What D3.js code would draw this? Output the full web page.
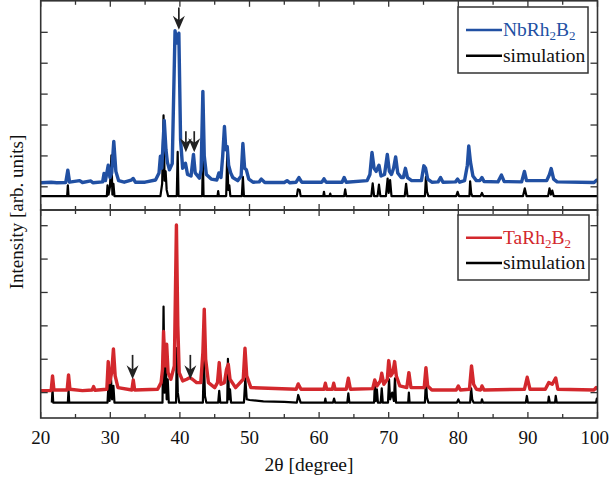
<!DOCTYPE html>
<html><head><meta charset="utf-8">
<script src="https://cdn.jsdelivr.net/npm/d3@7"></script>
<style>body{margin:0;background:#fff}svg{display:block}</style>
</head><body>
<script>
// ---- data (2θ in degrees, intensity in arbitrary units) ----
const nbMeasured = [[20,1.13],[21.5,1.15],[22.3,1.13],[23.6,1.14],[23.9,1.54],[24.15,1.15],[25.6,1.2],[26,1.14],[27.2,1.19],[27.5,1.13],[28.9,1.16],[29.1,1.43],[29.3,1.2],[29.7,1.7],[29.95,1.3],[30.2,1.45],[30.5,2.47],[30.8,1.5],[31.2,1.2],[32,1.15],[33.0,1.22],[33.3,1.27],[33.6,1.15],[35,1.15],[36.5,1.22],[37.0,1.45],[37.2,1.99],[37.4,1.6],[37.75,3.15],[38.0,2.2],[38.2,1.8],[38.5,1.55],[38.9,1.75],[39.3,6.05],[39.55,5.65],[39.85,5.97],[40.1,2.5],[40.4,1.6],[40.8,1.76],[41.1,1.4],[41.6,1.35],[41.95,2.05],[42.2,1.45],[42.8,1.28],[43.05,1.55],[43.3,4.09],[43.5,2.0],[43.8,1.4],[44.5,1.25],[45.3,1.22],[45.6,1.45],[45.9,1.3],[46.15,2.0],[46.4,2.95],[46.6,2.2],[46.8,2.3],[47.0,1.7],[47.3,1.45],[47.6,1.3],[48.3,1.2],[48.8,1.35],[49.05,2.4],[49.3,1.6],[49.55,1.55],[49.9,1.25],[50.5,1.15],[51.4,1.16],[51.7,1.25],[52.2,1.14],[55.0,1.14],[55.4,1.2],[55.8,1.13],[56.7,1.15],[57.1,1.3],[57.5,1.15],[60.4,1.15],[60.7,1.26],[61.0,1.15],[63.3,1.15],[63.6,1.3],[63.9,1.15],[66.9,1.2],[67.3,1.4],[67.6,2.11],[67.9,1.6],[68.2,1.5],[68.6,1.7],[68.9,1.35],[69.4,1.4],[69.8,2.05],[70.1,1.5],[70.4,1.4],[70.7,1.6],[71.0,1.97],[71.3,1.45],[71.8,1.3],[72.1,1.3],[72.4,1.6],[72.7,1.3],[73.3,1.2],[74.7,1.2],[75.05,1.68],[75.3,1.6],[75.6,1.25],[76.2,1.15],[77.1,1.16],[77.45,1.3],[77.8,1.15],[79.6,1.16],[79.9,1.25],[80.2,1.15],[80.9,1.2],[81.3,1.7],[81.5,2.32],[81.75,1.8],[82.1,1.35],[82.6,1.2],[83.1,1.2],[83.4,1.3],[83.7,1.17],[85.7,1.16],[86.2,1.38],[86.6,1.17],[89.1,1.16],[89.5,1.5],[89.8,1.2],[92.7,1.2],[93.1,1.4],[93.35,1.59],[93.7,1.25],[94.2,1.16],[99.5,1.14],[100,1.24]];
const nbSimulation = [[20,0.7],[23.8,0.7],[23.9,1.05],[24.0,0.7],[29.5,0.7],[29.6,1.05],[29.75,0.75],[29.95,1.0],[30.16,2.02],[30.3,0.75],[30.45,1.1],[30.6,0.7],[37.2,0.7],[37.45,1.1],[37.65,3.31],[37.8,1.2],[37.95,1.5],[38.1,0.9],[38.3,0.7],[39.55,0.7],[39.68,2.13],[39.8,0.7],[43.2,0.7],[43.3,1.9],[43.4,0.7],[45.4,0.7],[45.5,0.86],[45.6,0.7],[46.65,0.7],[46.8,2.05],[46.95,0.9],[47.1,1.05],[47.25,0.7],[48.9,0.7],[49.05,1.32],[49.2,0.7],[56.8,0.7],[56.95,0.92],[57.2,0.9],[57.35,0.7],[60.6,0.7],[60.7,0.84],[60.8,0.7],[61.5,0.7],[61.6,0.78],[61.7,0.7],[63.6,0.7],[63.75,0.92],[63.9,0.7],[67.5,0.7],[67.7,1.11],[67.9,0.7],[68.4,0.7],[68.6,1.07],[68.8,0.7],[69.6,0.7],[69.85,1.27],[70.0,0.8],[70.2,1.22],[70.4,0.7],[72.3,0.7],[72.5,1.1],[72.7,0.7],[75.2,0.7],[75.35,1.32],[75.5,0.85],[75.7,0.7],[79.7,0.7],[79.9,0.84],[80.1,0.7],[81.6,0.7],[81.7,1.18],[81.85,0.8],[82.0,0.7],[83.2,0.7],[83.4,0.8],[83.6,0.7],[89.3,0.7],[89.55,0.95],[89.8,0.7],[92.9,0.7],[93.1,0.95],[93.3,0.75],[93.5,0.88],[93.7,0.7],[100,0.7]];
const taMeasured = [[20,1.06],[21.5,1.06],[21.7,1.5],[21.9,1.08],[23.8,1.08],[24.0,1.53],[24.2,1.1],[26,1.06],[27.4,1.08],[27.6,1.18],[27.8,1.07],[29.5,1.1],[29.7,1.93],[29.9,1.3],[30.2,1.6],[30.45,2.31],[30.7,1.5],[31.1,1.15],[33.1,1.08],[33.3,1.38],[33.5,1.08],[36.8,1.1],[37.3,1.3],[37.5,1.7],[37.65,2.83],[37.85,1.8],[38.1,2.45],[38.3,1.6],[38.7,1.4],[39.2,1.8],[39.5,6.02],[39.7,3.0],[39.9,1.6],[40.4,1.35],[41.0,1.4],[41.4,1.45],[41.8,1.4],[42.4,1.3],[43.0,1.3],[43.3,2.2],[43.5,3.5],[43.7,2.0],[44.1,1.3],[45.0,1.15],[45.4,1.3],[45.65,1.9],[45.9,1.25],[46.4,1.3],[46.7,1.7],[46.95,1.85],[47.2,1.4],[48.0,1.15],[49.1,1.4],[49.35,2.33],[49.6,1.5],[50.2,1.15],[56.7,1.1],[57.0,1.26],[57.4,1.1],[60.7,1.1],[60.9,1.28],[61.1,1.1],[61.9,1.1],[62.1,1.28],[62.3,1.1],[63.9,1.1],[64.2,1.43],[64.5,1.1],[67.7,1.12],[68.0,1.38],[68.3,1.2],[68.8,1.35],[69.0,1.58],[69.3,1.25],[69.8,1.4],[70.0,1.96],[70.3,1.5],[70.6,1.6],[70.85,1.93],[71.1,1.5],[71.6,1.2],[72.6,1.15],[72.9,1.6],[73.2,1.15],[75.1,1.15],[75.35,1.75],[75.6,1.2],[76.2,1.08],[79.7,1.08],[80.0,1.2],[80.3,1.08],[81.6,1.1],[81.9,1.8],[82.2,1.25],[82.6,1.1],[83.2,1.08],[83.4,1.2],[83.7,1.08],[89.5,1.1],[89.9,1.46],[90.3,1.1],[92.5,1.1],[93.0,1.3],[93.5,1.25],[94.0,1.44],[94.3,1.1],[99.5,1.08],[99.8,1.15],[100,1.1]];
const taSimulation = [[21.6,0.7],[21.7,1.1],[21.8,0.7],[23.9,0.7],[24.0,1.08],[24.1,0.7],[29.6,0.7],[29.75,1.3],[29.9,0.75],[30.1,1.45],[30.25,0.8],[30.45,1.2],[30.6,0.7],[37.5,0.7],[37.65,3.58],[37.8,1.0],[37.95,2.2],[38.1,0.8],[38.25,1.4],[38.4,0.7],[39.45,0.7],[39.55,2.33],[39.7,1.0],[39.9,0.7],[43.3,0.7],[43.45,2.03],[43.6,0.9],[43.8,0.7],[45.5,0.7],[45.65,1.05],[45.8,0.7],[46.8,0.7],[46.9,2.01],[47.05,0.8],[47.2,1.1],[47.35,0.7],[49.2,0.7],[49.4,1.43],[49.6,0.8],[50,0.78],[52,0.74],[55,0.72],[56.8,0.7],[57.0,0.93],[57.2,0.8],[57.35,0.7],[60.8,0.7],[60.9,0.82],[61.0,0.7],[62.0,0.7],[62.15,0.82],[62.3,0.7],[64.05,0.7],[64.2,0.98],[64.35,0.7],[67.9,0.7],[68.0,1.23],[68.15,0.75],[68.3,1.1],[68.45,0.7],[68.85,0.7],[69.0,1.13],[69.15,0.7],[69.9,0.7],[70.05,1.4],[70.2,0.8],[70.5,1.0],[70.75,0.75],[70.9,1.43],[71.05,0.7],[72.8,0.7],[72.9,1.0],[73.0,0.7],[75.2,0.7],[75.35,1.38],[75.5,0.85],[75.7,0.7],[79.8,0.7],[80.0,0.8],[80.2,0.7],[81.7,0.7],[81.85,1.13],[82.0,0.8],[82.2,0.7],[83.3,0.7],[83.4,0.8],[83.55,0.7],[89.7,0.7],[89.85,0.9],[90.0,0.7],[92.9,0.7],[93.0,0.88],[93.15,0.7],[93.9,0.7],[94.0,0.9],[94.15,0.7],[99.8,0.7],[99.9,0.82],[100,0.7]];
// arrows: [2θ, start intensity, tip intensity]
const nbArrows = [[39.85,6.8,6.08],[40.86,2.8,2.12],[42.06,2.8,2.12]];
const taArrows = [[33.2,2.13,1.4],[41.5,2.13,1.4]];
const xMajorTicks = [20,30,40,50,60,70,80,90,100];
const xMinorTicks = [25,35,45,55,65,75,85,95];
const yTicks = [1,2,3,4,5,6];
const labels = {top:["NbRh","2","B","2"], bottom:["TaRh","2","B","2"], sim:"simulation",
  xTitle:"2θ [degree]", yTitle:"Intensity [arb. units]"};
const colors = {nb:"#2150a3", ta:"#d3282d", sim:"#000", axis:"#333"};

// ---- layout ----
const FONT = "'Liberation Serif', 'Times New Roman', Times, 'DejaVu Serif', serif";
const W=610,H=482, L=40.7, R=597.5;
const svg=d3.select("body").append("svg").attr("width",W).attr("height",H).attr("font-family",FONT);
const x=d3.scaleLinear().domain([20,100]).range([L,R]);
const panels=[
  {y:d3.scaleLinear().domain([0.25,7.02]).range([210,0.8]), top:0.8, bot:210, meas:nbMeasured, sim:nbSimulation, col:colors.nb, arrows:nbArrows, lab:labels.top, leg:{x0:458,y0:7,x1:588,y1:73}},
  {y:d3.scaleLinear().domain([0.24,6.47]).range([418,210]), top:210, bot:418, meas:taMeasured, sim:taSimulation, col:colors.ta, arrows:taArrows, lab:labels.bottom, leg:{x0:458,y0:215,x1:589,y1:280}}
];
const defs=svg.append("defs");
panels.forEach((p,i)=>{
  defs.append("clipPath").attr("id","clip"+i).append("rect").attr("x",L).attr("y",p.top).attr("width",R-L).attr("height",p.bot-p.top);
  const g=svg.append("g").attr("clip-path",`url(#clip${i})`);
  const line=d3.line().x(d=>x(d[0])).y(d=>p.y(d[1]));
  g.append("path").datum(p.sim).attr("d",line).attr("fill","none").attr("stroke",colors.sim).attr("stroke-width",2.2).attr("stroke-linejoin","round");
  g.append("path").datum(p.meas).attr("d",line).attr("fill","none").attr("stroke",p.col).attr("stroke-width",3.4).attr("stroke-linejoin","round");
  // arrows
  p.arrows.forEach(a=>{
    const ax=x(a[0]), y0=p.y(a[1]), y1=p.y(a[2]);
    svg.append("line").attr("x1",ax).attr("x2",ax).attr("y1",y0).attr("y2",y1-6).attr("stroke","#222").attr("stroke-width",1.7);
    svg.append("path").attr("d",`M${ax},${y1} L${ax-6},${y1-14} L${ax},${y1-9.5} L${ax+6},${y1-14} Z`).attr("fill","#222");
  });
  // y ticks (inward, both sides)
  yTicks.forEach(t=>{
    const yy=p.y(t);
    svg.append("line").attr("x1",L).attr("x2",L+7).attr("y1",yy).attr("y2",yy).attr("stroke",colors.axis).attr("stroke-width",1.3);
    svg.append("line").attr("x1",R).attr("x2",R-7).attr("y1",yy).attr("y2",yy).attr("stroke",colors.axis).attr("stroke-width",1.3);
  });
  // x ticks (inward at top and bottom of each panel)
  xMajorTicks.forEach(t=>{
    svg.append("line").attr("x1",x(t)).attr("x2",x(t)).attr("y1",p.bot).attr("y2",p.bot-6).attr("stroke",colors.axis).attr("stroke-width",1.3);
    svg.append("line").attr("x1",x(t)).attr("x2",x(t)).attr("y1",p.top).attr("y2",p.top+6).attr("stroke",colors.axis).attr("stroke-width",1.3);
  });
  xMinorTicks.forEach(t=>{
    svg.append("line").attr("x1",x(t)).attr("x2",x(t)).attr("y1",p.bot).attr("y2",p.bot-4).attr("stroke",colors.axis).attr("stroke-width",1.3);
    svg.append("line").attr("x1",x(t)).attr("x2",x(t)).attr("y1",p.top).attr("y2",p.top+4).attr("stroke",colors.axis).attr("stroke-width",1.3);
  });
  // frame
  svg.append("rect").attr("x",L).attr("y",p.top).attr("width",R-L).attr("height",p.bot-p.top).attr("fill","none").attr("stroke",colors.axis).attr("stroke-width",1.6);
  // legend
  const lg=p.leg;
  svg.append("rect").attr("x",lg.x0).attr("y",lg.y0).attr("width",lg.x1-lg.x0).attr("height",lg.y1-lg.y0).attr("fill","#fff").attr("stroke",colors.axis).attr("stroke-width",1.5);
  const r1=lg.y0+(lg.y1-lg.y0)*0.35, r2=lg.y0+(lg.y1-lg.y0)*0.74;
  svg.append("line").attr("x1",466).attr("x2",502).attr("y1",r1).attr("y2",r1).attr("stroke",p.col).attr("stroke-width",2.5);
  svg.append("line").attr("x1",466).attr("x2",502).attr("y1",r2).attr("y2",r2).attr("stroke",colors.sim).attr("stroke-width",2.5);
  const t1=svg.append("text").attr("x",503).attr("y",r1+6).attr("font-size",19.5).attr("fill",p.col);
  t1.append("tspan").text(p.lab[0]);
  t1.append("tspan").attr("font-size",13).attr("dy",4).text(p.lab[1]);
  t1.append("tspan").attr("dy",-4).text(p.lab[2]);
  t1.append("tspan").attr("font-size",13).attr("dy",4).text(p.lab[3]);
  svg.append("text").attr("x",503).attr("y",r2+6).attr("font-size",19.5).attr("fill","#111").text(labels.sim);
});
// x tick labels
xMajorTicks.forEach(t=>{
  const last = t===xMajorTicks[xMajorTicks.length-1];
  svg.append("text").attr("x",last? W-1 : x(t)).attr("y",444).attr("text-anchor",last?"end":"middle").attr("font-size",19).attr("fill","#111").text(t);
});
svg.append("text").attr("x",309).attr("y",471).attr("text-anchor","middle").attr("font-size",19.5).attr("fill","#111").text(labels.xTitle);
svg.append("text").attr("transform","translate(23,212) rotate(-90)").attr("text-anchor","middle").attr("font-size",19).attr("fill","#111").text(labels.yTitle);
</script>
</body></html>
